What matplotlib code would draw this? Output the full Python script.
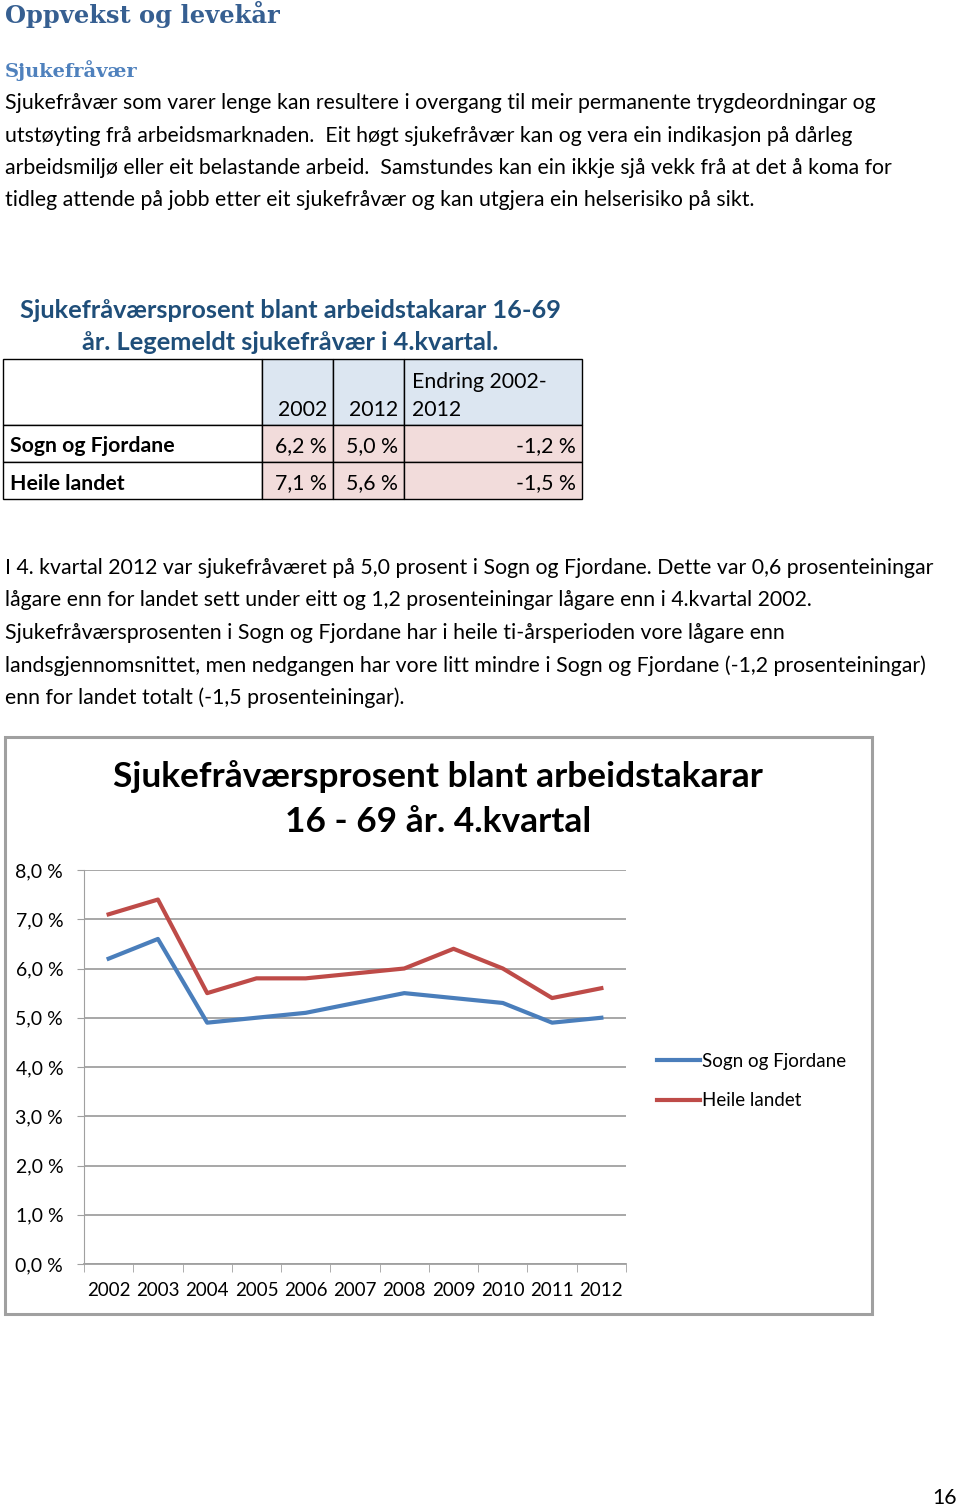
import matplotlib
matplotlib.use('Agg')
import matplotlib.pyplot as plt
from matplotlib.patches import Rectangle

W, H = 960, 1508

# Chart data
years = ['2002', '2003', '2004', '2005', '2006', '2007', '2008', '2009', '2010', '2011', '2012']
sogn = [6.2, 6.6, 4.9, 5.0, 5.1, 5.3, 5.5, 5.4, 5.3, 4.9, 5.0]
landet = [7.1, 7.4, 5.5, 5.8, 5.8, 5.9, 6.0, 6.4, 6.0, 5.4, 5.6]
series_names = ['Sogn og Fjordane', 'Heile landet']
yticks = [0, 1, 2, 3, 4, 5, 6, 7, 8]

# Table data
tab_cols = ['2002', '2012', 'Endring 2002-\n2012']
tab_rows = ['Sogn og Fjordane', 'Heile landet']
tab_vals = [['6,2 %', '5,0 %', '-1,2 %'],
            ['7,1 %', '5,6 %', '-1,5 %']]

para1 = ['Sjukefråvær som varer lenge kan resultere i overgang til meir permanente trygdeordningar og',
         'utstøyting frå arbeidsmarknaden.  Eit høgt sjukefråvær kan og vera ein indikasjon på dårleg',
         'arbeidsmiljø eller eit belastande arbeid.  Samstundes kan ein ikkje sjå vekk frå at det å koma for',
         'tidleg attende på jobb etter eit sjukefråvær og kan utgjera ein helserisiko på sikt.']
para2 = ['I 4. kvartal 2012 var sjukefråværet på 5,0 prosent i Sogn og Fjordane. Dette var 0,6 prosenteiningar',
         'lågare enn for landet sett under eitt og 1,2 prosenteiningar lågare enn i 4.kvartal 2002.',
         'Sjukefråværsprosenten i Sogn og Fjordane har i heile ti-årsperioden vore lågare enn',
         'landsgjennomsnittet, men nedgangen har vore litt mindre i Sogn og Fjordane (-1,2 prosenteiningar)',
         'enn for landet totalt (-1,5 prosenteiningar).']

SANS = 'Lato'
SERIF = 'DejaVu Serif'
BODY = 15.3


def fx(px):
    return px / W


def fy(py):
    return 1 - py / H


fig = plt.figure(figsize=(W / 100, H / 100), dpi=100)
fig.patch.set_facecolor('white')

# headings
fig.text(fx(5), fy(14), 'Oppvekst og levekår', fontsize=17.4, fontweight='bold',
         family=SERIF, color='#365F91', va='center')
fig.text(fx(5), fy(71), 'Sjukefråvær', fontsize=14, fontweight='bold',
         family=SERIF, color='#4F81BD', va='center')

for i, line in enumerate(para1):
    fig.text(fx(5), fy(103 + i * 32.5), line, fontsize=BODY, family=SANS, va='center')

# table title
fig.text(fx(20), fy(310), 'Sjukefråværsprosent blant arbeidstakarar 16-69', fontsize=18.3,
         fontweight='bold', family=SANS, color='#1F4E79', va='center')
fig.text(fx(82), fy(343), 'år. Legemeldt sjukefråvær i 4.kvartal.', fontsize=18.3,
         fontweight='bold', family=SANS, color='#1F4E79', va='center')

# table
col_x = [3, 262, 333, 404, 582]
row_y = [359, 425, 462, 499]
for r in range(3):
    for c in range(4):
        x0, x1 = col_x[c], col_x[c + 1]
        y0, y1 = row_y[r], row_y[r + 1]
        if c == 0:
            fc = 'white'
        elif r == 0:
            fc = '#DCE6F1'
        else:
            fc = '#F2DCDB'
        fig.patches.append(Rectangle((fx(x0), fy(y1)), fx(x1 - x0), (y1 - y0) / H,
                                     transform=fig.transFigure, facecolor=fc,
                                     edgecolor='black', linewidth=1.0))
for c, lab in enumerate(tab_cols):
    if '\n' in lab:
        l1, l2 = lab.split('\n')
        fig.text(fx(col_x[c + 1] + 8), fy(382), l1, fontsize=BODY, family=SANS, va='center')
        fig.text(fx(col_x[c + 1] + 8), fy(410), l2, fontsize=BODY, family=SANS, va='center')
    else:
        fig.text(fx(col_x[c + 2] - 6), fy(410), lab, fontsize=BODY, family=SANS,
                 va='center', ha='right')
for r, name in enumerate(tab_rows):
    yc = (row_y[r + 1] + row_y[r + 2]) / 2 + 3
    fig.text(fx(10), fy(yc), name, fontsize=BODY, fontweight='bold', family=SANS, va='center')
    for c, v in enumerate(tab_vals[r]):
        fig.text(fx(col_x[c + 2] - 6), fy(yc), v, fontsize=BODY, family=SANS,
                 va='center', ha='right')

for i, line in enumerate(para2):
    fig.text(fx(5), fy(568 + i * 32.5), line, fontsize=BODY, family=SANS, va='center')

# chart frame
frame = Rectangle((fx(5), fy(1314)), fx(867), 577 / H, transform=fig.transFigure,
                  facecolor='white', edgecolor='#A0A0A0', linewidth=2.2, zorder=-5)
fig.patches.append(frame)
fig.text(fx(438), fy(777), 'Sjukefråværsprosent blant arbeidstakarar', fontsize=25.4,
         fontweight='bold', family=SANS, ha='center', va='center')
fig.text(fx(438), fy(822), '16 - 69 år. 4.kvartal', fontsize=25.4,
         fontweight='bold', family=SANS, ha='center', va='center')

ax = fig.add_axes([fx(84), fy(1264), fx(626 - 84), (1264 - 870) / H])
x = list(range(len(years)))
ax.plot(x, sogn, color='#4A7EBB', linewidth=3, label=series_names[0])
ax.plot(x, landet, color='#BE4B48', linewidth=3, label=series_names[1])
ax.set_xlim(-0.5, len(years) - 0.5)
ax.set_ylim(0, 8)
ax.set_yticks(yticks)
ax.set_yticklabels(['%d,0 %%' % v for v in yticks], family=SANS, fontsize=14)
ax.yaxis.grid(True, color='#A0A0A0', linewidth=1.3)
ax.set_axisbelow(True)
ax.tick_params(axis='y', length=5, color='#A0A0A0', pad=10)
ax.set_xticks(x)
ax.set_xticklabels(years, family=SANS, fontsize=13.5)
ax.tick_params(axis='x', length=0, pad=13)
ax.set_xticks([v - 0.5 for v in range(len(years) + 1)], minor=True)
ax.tick_params(axis='x', which='minor', length=6, color='#A0A0A0')
for s in ['top', 'right']:
    ax.spines[s].set_visible(False)
ax.spines['left'].set_color('#A0A0A0')
ax.spines['bottom'].set_color('#A0A0A0')
ax.spines['bottom'].set_linewidth(1.3)
ax.patch.set_alpha(0)
ax.legend(loc='upper left', bbox_to_anchor=(fx(640), fy(1036)), bbox_transform=fig.transFigure,
          frameon=False, prop={'family': SANS, 'size': 13.5}, handlelength=2.3,
          handletextpad=0.1, labelspacing=1.2)

fig.text(fx(957), fy(1498), '16', fontsize=BODY, family=SANS, ha='right', va='center')

fig.savefig('out.png', dpi=100, facecolor='white')
